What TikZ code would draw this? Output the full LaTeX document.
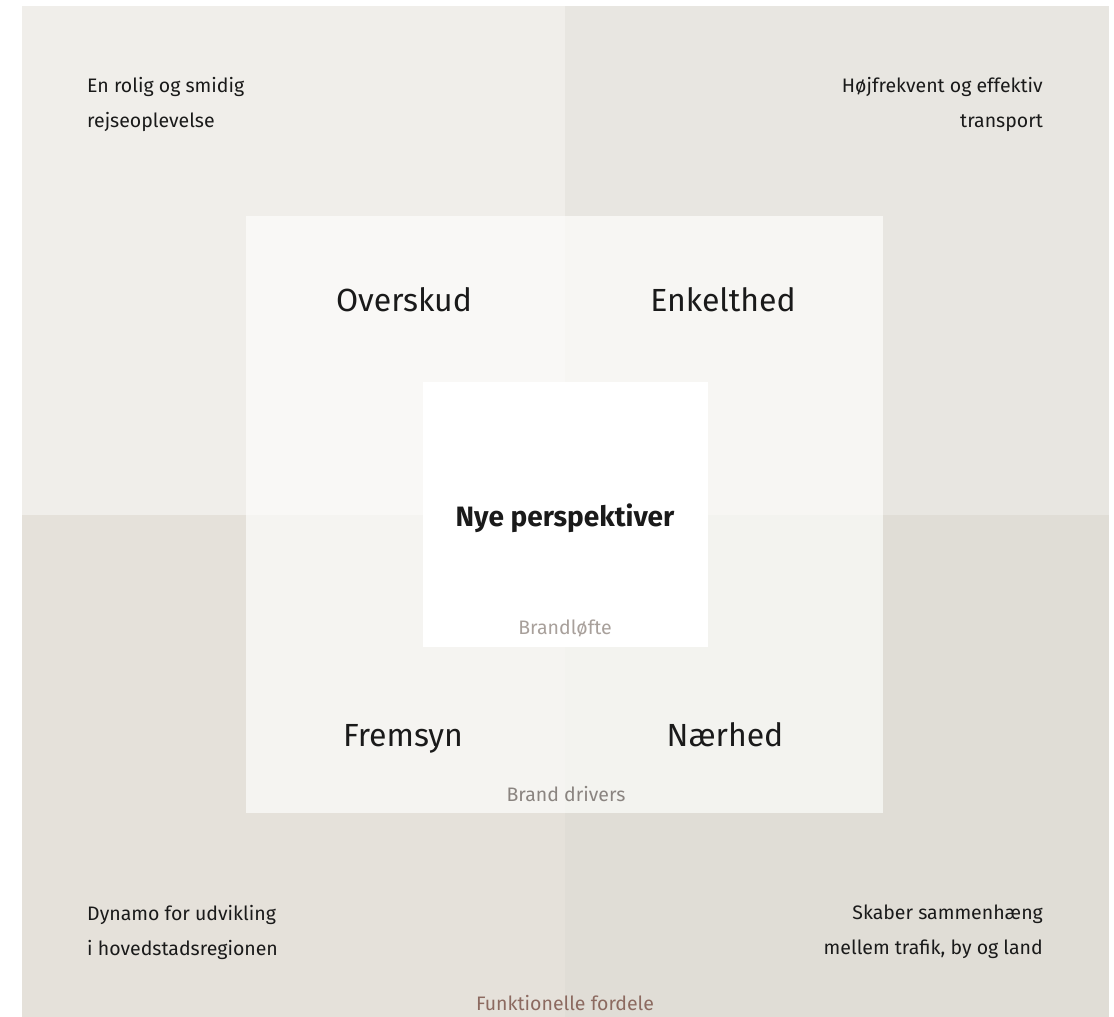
\documentclass[tikz,border=0pt]{standalone}
\usepackage{fontspec}
\setmainfont{Fira Sans}
\usepackage{tikz}
\usetikzlibrary{positioning}
\definecolor{qa}{HTML}{F0EEEA}
\definecolor{qb}{HTML}{E8E6E1}
\definecolor{qc}{HTML}{E5E1DA}
\definecolor{qd}{HTML}{E0DDD6}
\definecolor{ma}{HTML}{F9F8F6}
\definecolor{mb}{HTML}{F7F6F3}
\definecolor{mc}{HTML}{F5F4F1}
\definecolor{md}{HTML}{F3F3EF}
\definecolor{ink}{HTML}{1A1A1A}
\definecolor{lblgray}{HTML}{A8A09B}
\definecolor{drvgray}{HTML}{8A8480}
\definecolor{fnbrown}{HTML}{8C6A60}

\begin{document}
\begin{tikzpicture}[x=1pt, y=-1pt,
  small/.style={text=ink, font=\fontsize{19.5}{35}\selectfont, inner sep=0pt},
  big/.style={text=ink, font=\fontsize{32}{36}\selectfont, inner sep=0pt, anchor=base},
  tag/.style={font=\fontsize{19.5}{22}\selectfont, inner sep=0pt}]
\useasboundingbox (0,0) rectangle (1114,1017);
% outer quadrants
\fill[qa] (22,6) rectangle (565,515);
\fill[qb] (565,6) rectangle (1109,515);
\fill[qc] (22,515) rectangle (565,1017);
\fill[qd] (565,515) rectangle (1109,1017);
% brand drivers
\fill[ma] (246,216) rectangle (565,515);
\fill[mb] (565,216) rectangle (883,515);
\fill[mc] (246,515) rectangle (565,813);
\fill[md] (565,515) rectangle (883,813);
% brand promise
\fill[white] (423,382) rectangle (708,647);

\node[small, align=left, anchor=north west] (rolig) at (87,77) {En rolig og smidig\\rejseoplevelse};
\node[small, align=right, anchor=north east] (hoj) at (1043,77) {Højfrekvent og effektiv\\transport};
\node[small, align=left, anchor=north west] (dynamo) at (87,905) {Dynamo for udvikling\\i hovedstadsregionen};
\node[small, align=right, anchor=north east] (skaber) at (1043,905) {Skaber sammenhæng\\mellem trafik, by og land};

\node[big] (overskud) at (404,311) {Overskud};
\node[big] (enkelthed) at (723,311) {Enkelthed};
\node[big] (fremsyn) at (403,746) {Fremsyn};
\node[big] (naerhed) at (725,746) {Nærhed};

\node[text=ink, font=\fontsize{28}{32}\selectfont\bfseries, inner sep=0pt] (nye) at (565,518) {Nye perspektiver};
\node[tag, text=lblgray] (loefte) at (565,628) {Brandløfte};
\node[tag, text=drvgray] (drivers) at (566,794) {Brand drivers};
\node[tag, text=fnbrown] (fordele) at (565,1003) {Funktionelle fordele};
\end{tikzpicture}
\end{document}
